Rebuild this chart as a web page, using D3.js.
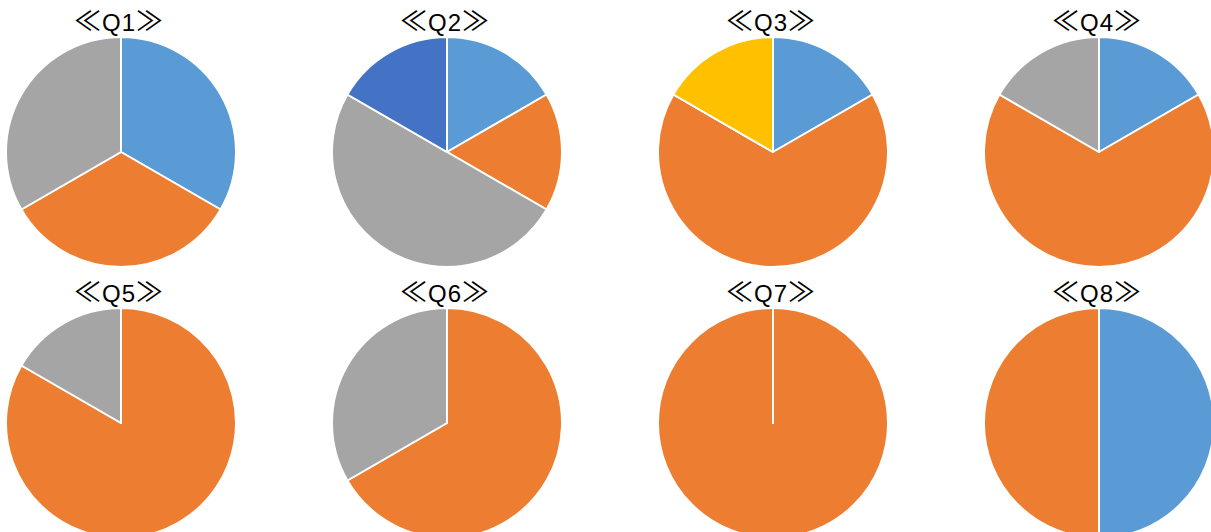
<!DOCTYPE html>
<html>
<head>
<meta charset="utf-8">
<script src="https://cdn.jsdelivr.net/npm/d3@7"></script>
<style>
  body { margin: 0; background: #fff; }
  .title { font-family: "Liberation Sans", "Noto Sans CJK SC", sans-serif; font-size: 24px; fill: #000; letter-spacing: 1px; }
  .title .br { font-family: "Noto Sans CJK SC", sans-serif; font-size: 27px; }
</style>
</head>
<body>
<div id="chart"></div>
<script>
// Survey answers, 6 responses per question
const options = ['A', 'B', 'C', 'D', 'E'];
const colors = ['#5B9BD5', '#ED7D31', '#A5A5A5', '#FFC000', '#4472C4'];
const questions = ['Q1', 'Q2', 'Q3', 'Q4', 'Q5', 'Q6', 'Q7', 'Q8'];
const q1 = [2, 2, 2, 0, 0];
const q2 = [1, 1, 3, 0, 1];
const q3 = [1, 4, 0, 1, 0];
const q4 = [1, 4, 1, 0, 0];
const q5 = [0, 5, 1, 0, 0];
const q6 = [0, 4, 2, 0, 0];
const q7 = [0, 6, 0, 0, 0];
const q8 = [3, 3, 0, 0, 0];
const answers = [q1, q2, q3, q4, q5, q6, q7, q8];

const width = 1211, height = 532;
const svg = d3.select('#chart').append('svg')
    .attr('width', width)
    .attr('height', height);

// grid of 4 columns x 2 rows
const colX = d3.scalePoint().domain([0, 1, 2, 3]).range([121, 1099]);
const rowY = d3.scalePoint().domain([0, 1]).range([152, 423]);
const color = d3.scaleOrdinal().domain(options).range(colors);
const radius = 115;

const pie = d3.pie().sort(null).value(d => d.v);
const arc = d3.arc().innerRadius(0).outerRadius(radius);

questions.forEach((q, i) => {
    const cx = colX(i % 4), cy = rowY(Math.floor(i / 4));
    const g = svg.append('g').attr('transform', `translate(${cx},${cy})`);
    const data = options.map((o, k) => ({ o, v: answers[i][k] }));

    g.selectAll('path')
        .data(pie(data))
        .enter()
        .append('path')
        .attr('d', arc)
        .attr('fill', d => color(d.data.o))
        .attr('stroke', '#fff')
        .attr('stroke-width', 2)
        .attr('stroke-linejoin', 'round');

    const t = svg.append('text')
        .attr('class', 'title')
        .attr('x', cx - 2)
        .attr('y', cy - radius - 6)
        .attr('text-anchor', 'middle');
    t.append('tspan').attr('class', 'br').text('≪');
    t.append('tspan').text(q);
    t.append('tspan').attr('class', 'br').text('≫');
});
</script>
</body>
</html>
